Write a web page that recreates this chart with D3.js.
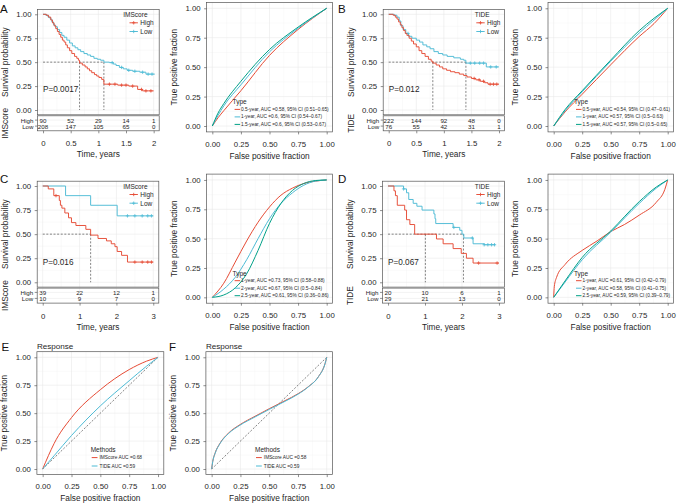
<!DOCTYPE html>
<html><head><meta charset="utf-8">
<script src="https://cdn.jsdelivr.net/npm/d3@7"></script>
<style>body{margin:0;background:#fff}svg{font-family:"Liberation Sans",Arial,Helvetica,sans-serif;display:block}</style>
</head><body><svg id="c" width="677" height="504"></svg>
<script>
// ---------------- DATA ----------------
const RED = "#E64B35", BLUE = "#4DBBD5", GREEN = "#00A087";
const survTicks = [0, 0.25, 0.5, 0.75, 1];
const fracTicks = [0, 0.25, 0.5, 0.75, 1];
const kmTicksAB = [0, 0.5, 1, 1.5, 2];
const kmTickLabelsAB = ["0", "0.5", "1", "1.5", "2"];
const kmTicksCD = [0, 1, 2, 3];
const kmTickLabelsCD = ["0", "1", "2", "3"];
const groups = ["High", "Low"];

// Kaplan-Meier steps [time, survival]
const kmAHigh = [[0,1],[0.06,0.99],[0.1,0.97],[0.14,0.94],[0.17,0.91],[0.2,0.88],[0.23,0.85],[0.26,0.82],[0.29,0.79],[0.32,0.76],[0.35,0.73],[0.38,0.71],[0.41,0.68],[0.44,0.65],[0.48,0.62],[0.52,0.59],[0.57,0.56],[0.61,0.54],[0.64,0.52],[0.66,0.49],[0.71,0.47],[0.76,0.45],[0.8,0.43],[0.84,0.41],[0.88,0.39],[0.93,0.37],[0.97,0.355],[1.01,0.34],[1.06,0.32],[1.1,0.27],[1.35,0.26],[1.55,0.25],[1.71,0.215],[1.8,0.2],[2.0,0.2]];
const kmALow = [[0,1],[0.05,0.99],[0.09,0.97],[0.13,0.95],[0.16,0.92],[0.19,0.89],[0.22,0.87],[0.26,0.84],[0.3,0.81],[0.34,0.78],[0.38,0.76],[0.43,0.73],[0.48,0.7],[0.53,0.67],[0.58,0.65],[0.63,0.63],[0.68,0.61],[0.74,0.59],[0.8,0.575],[0.86,0.56],[0.92,0.54],[0.98,0.53],[1.04,0.52],[1.1,0.5],[1.2,0.495],[1.27,0.48],[1.32,0.465],[1.38,0.445],[1.45,0.43],[1.52,0.415],[1.62,0.405],[1.75,0.395],[1.86,0.375],[2.02,0.375]];
const kmBHigh = [[0,1],[0.08,0.99],[0.12,0.97],[0.15,0.95],[0.18,0.92],[0.21,0.89],[0.24,0.86],[0.27,0.83],[0.3,0.8],[0.33,0.78],[0.37,0.75],[0.41,0.72],[0.45,0.69],[0.5,0.66],[0.55,0.62],[0.6,0.59],[0.66,0.56],[0.72,0.53],[0.77,0.51],[0.8,0.49],[0.86,0.47],[0.92,0.45],[0.98,0.43],[1.05,0.415],[1.12,0.4],[1.2,0.39],[1.28,0.375],[1.36,0.36],[1.42,0.345],[1.5,0.33],[1.58,0.315],[1.66,0.3],[1.74,0.285],[1.8,0.27],[2.0,0.27]];
const kmBLow = [[0,1],[0.1,0.99],[0.15,0.97],[0.19,0.93],[0.22,0.88],[0.26,0.84],[0.31,0.8],[0.36,0.77],[0.42,0.75],[0.5,0.73],[0.56,0.71],[0.62,0.68],[0.69,0.66],[0.75,0.64],[0.82,0.61],[0.9,0.59],[0.98,0.575],[1.06,0.56],[1.18,0.545],[1.3,0.53],[1.36,0.52],[1.4,0.49],[1.77,0.45],[2.0,0.45]];
const kmCHigh = [[0,1],[0.15,0.97],[0.3,0.9],[0.45,0.85],[0.48,0.8],[0.52,0.77],[0.6,0.72],[0.7,0.67],[0.78,0.62],[0.9,0.59],[1.17,0.55],[1.3,0.49],[1.5,0.455],[1.73,0.43],[1.86,0.4],[1.96,0.37],[2.02,0.32],[2.14,0.28],[2.3,0.21],[3.0,0.21]];
const kmCLow = [[0,1],[0.62,0.9],[1.3,0.8],[2.02,0.69],[3.0,0.69]];
const kmDHigh = [[0,1],[0.16,0.95],[0.2,0.9],[0.25,0.8],[0.45,0.75],[0.5,0.65],[0.59,0.6],[0.72,0.5],[1.31,0.45],[1.49,0.4],[1.76,0.35],[1.98,0.3],[2.12,0.25],[2.3,0.2],[3.0,0.2]];
const kmDLow = [[0,1],[0.42,0.97],[0.5,0.93],[0.56,0.86],[0.68,0.82],[0.78,0.79],[0.92,0.75],[1.24,0.71],[1.27,0.66],[1.29,0.61],[1.76,0.57],[1.94,0.54],[2.0,0.5],[2.05,0.46],[2.3,0.4],[2.6,0.39],[2.9,0.39]];

// censoring times
const censAHigh = [1.2,1.3,1.42,1.5,1.62,1.78,1.86,1.95];
const censALow = [1.25,1.42,1.55,1.66,1.8,1.9,1.97];
const censBHigh = [1.55,1.64,1.72,1.84,1.9,1.96];
const censBLow = [0.35,1.48,1.56,1.65,1.72,1.85,1.95];
const censCHigh = [0.36,2.5,2.7,2.85,2.95];
const censCLow = [2.3,2.5,2.7,2.85,2.95];
const censDHigh = [2.45,2.95];
const censDLow = [0.42,1.78,2.28,2.6,2.7,2.8,2.88];

// medians and p-values
const medA = [0.66, 1.1], medB = [0.8, 1.4], medC = [1.3], medD = [1.01, 2.04];
const pValues = ["P=0.0017", "P=0.012", "P=0.016", "P=0.067"];

// numbers at risk
const riskAHigh = [90,52,29,14,1], riskALow = [208,147,105,65,0];
const riskBHigh = [222,144,92,48,0], riskBLow = [76,55,42,31,1];
const riskCHigh = [39,22,12,1], riskCLow = [10,9,7,0];
const riskDHigh = [20,10,6,1], riskDLow = [29,21,13,0];

// ROC curves (FPR, TPR)
const rocAFpr = [0,0.05,0.1,0.25,0.5,0.75,1];
const rocARed = [0,0.07,0.13,0.30,0.60,0.82,1];
const rocABlue = [0,0.09,0.17,0.35,0.63,0.83,1];
const rocAGreen = [0,0.11,0.19,0.38,0.65,0.84,1];
const rocALabels = ["0.5-year, AUC =0.58, 95% CI (0.51\u20130.65)","1-year, AUC =0.6, 95% CI (0.54\u20130.67)","1.5-year, AUC =0.6, 95% CI (0.53\u20130.67)"];

const rocBFpr = [0,0.1,0.25,0.5,0.75,0.88,1];
const rocBRed = [0,0.12,0.27,0.52,0.76,0.87,1];
const rocBBlue = [0,0.13,0.29,0.55,0.79,0.90,1];
const rocBGreen = [0,0.14,0.30,0.56,0.81,0.915,1];
const rocBLabels = ["0.5-year, AUC =0.54, 95% CI (0.47\u20130.61)","1-year, AUC =0.57, 95% CI (0.5\u20130.63)","1.5-year, AUC =0.57, 95% CI (0.5\u20130.65)"];

const rocCFpr = [0,0.1,0.2,0.3,0.4,0.5,0.6,0.7,0.8,0.9,1];
const rocCRed = [0,0.12,0.3,0.48,0.64,0.77,0.87,0.93,0.97,0.99,1];
const rocCBlue = [0,0.07,0.17,0.32,0.5,0.67,0.8,0.89,0.955,0.99,1];
const rocCGreen = [0,0.02,0.08,0.2,0.4,0.63,0.8,0.91,0.97,0.995,1];
const rocCLabels = ["1-year, AUC =0.73, 95% CI (0.58\u20130.88)","2-year, AUC =0.67, 95% CI (0.5\u20130.84)","2.5-year, AUC =0.61, 95% CI (0.36\u20130.86)"];

const rocDRedFpr = [0,0.005,0.025,0.1,0.25,0.38,0.5,0.62,0.75,0.9,0.975,1];
const rocDRed = [0,0.09,0.17,0.28,0.40,0.48,0.56,0.62,0.70,0.81,0.92,1];
const rocDFpr = [0,0.1,0.25,0.5,0.75,0.9,1];
const rocDBlue = [0,0.13,0.32,0.555,0.80,0.93,1];
const rocDGreen = [0,0.14,0.34,0.565,0.815,0.94,1];
const rocDLabels = ["1-year, AUC =0.61, 95% CI (0.42\u20130.79)","2-year, AUC =0.58, 95% CI (0.41\u20130.75)","2.5-year, AUC =0.59, 95% CI (0.39\u20130.79)"];

const rocEFpr = [0,0.05,0.1,0.25,0.5,0.75,0.9,1];
const rocERed = [0,0.12,0.23,0.46,0.71,0.89,0.965,1];
const rocEBlue = [0,0.06,0.12,0.3,0.565,0.79,0.92,1];
const rocELabels = ["IMScore AUC =0.68","TIDE AUC =0.59"];

const rocFFpr = [0,0.009,0.029,0.072,0.145,0.246,0.377,0.501,0.638,0.751,0.841,0.928,0.986,1];
const rocFRed = [0,0.066,0.14,0.23,0.32,0.397,0.472,0.54,0.612,0.674,0.738,0.827,0.946,1];
const rocFBlue = [0,0.064,0.137,0.227,0.316,0.392,0.466,0.534,0.606,0.67,0.736,0.826,0.945,1];
const rocFLabels = ["IMScore AUC =0.58","TIDE AUC =0.59"];

// ---------------- DRAWING ----------------
const svg = d3.select("#c");
const INK = "#1f1f1f";

function txt(g, x, y, s, o = {}) {
  const t = g.append("text").attr("x", x).attr("y", y).text(s)
    .attr("font-size", o.size || 7.8).attr("fill", o.fill || INK)
    .attr("text-anchor", o.anchor || "start");
  if (o.mid) t.attr("dominant-baseline", "central");
  if (o.rotate) t.attr("transform", `rotate(-90,${x},${y})`);
  return t;
}

function gridAndFrame(g, x, y, box, xMaj, yMaj) {
  const mid = a => a.slice(1).map((d, i) => (d + a[i]) / 2);
  const gl = g.append("g");
  const vl = (arr, col, w) => gl.selectAll(null).data(arr).enter().append("line")
    .attr("x1", d => x(d)).attr("x2", d => x(d)).attr("y1", box.t).attr("y2", box.b)
    .attr("stroke", col).attr("stroke-width", w);
  const hl = (arr, col, w) => gl.selectAll(null).data(arr).enter().append("line")
    .attr("y1", d => y(d)).attr("y2", d => y(d)).attr("x1", box.l).attr("x2", box.r)
    .attr("stroke", col).attr("stroke-width", w);
  vl(mid(xMaj), "#f3f3f3", 0.4); hl(mid(yMaj), "#f3f3f3", 0.4);
  vl(xMaj, "#e8e8e8", 0.55); hl(yMaj, "#e8e8e8", 0.55);
}
function frame(g, box) {
  g.append("rect").attr("x", box.l).attr("y", box.t).attr("width", box.r - box.l)
    .attr("height", box.b - box.t).attr("fill", "none").attr("stroke", "#555").attr("stroke-width", 0.7);
}
function styleAxis(a, size) {
  a.select(".domain").remove();
  a.selectAll(".tick line").attr("stroke", "#444").attr("stroke-width", 0.6);
  a.selectAll(".tick text").attr("font-size", size || 7.8).attr("fill", INK)
    .attr("font-family", "'Liberation Sans',Arial,sans-serif");
}
function yAxis(g, y, box, vals) {
  const a = g.append("g").attr("transform", `translate(${box.l},0)`)
    .call(d3.axisLeft(y).tickValues(vals).tickFormat(d3.format(".2f")).tickSize(2.5).tickPadding(3.5));
  styleAxis(a);
}
function xAxis(g, x, yPos, vals, fmt, pad) {
  const a = g.append("g").attr("transform", `translate(0,${yPos})`)
    .call(d3.axisBottom(x).tickValues(vals).tickFormat(fmt).tickSize(2.5).tickPadding(pad));
  styleAxis(a);
}
function survAt(arr, t) { let s = 1; for (const [tt, ss] of arr) if (tt <= t) s = ss; return s; }
function plus(g, cx, cy, col) {
  g.append("path").attr("d", `M${cx - 1.7},${cy}H${cx + 1.7}M${cx},${cy - 1.7}V${cy + 1.7}`)
    .attr("stroke", col).attr("stroke-width", 0.8).attr("fill", "none");
}

function kmPanel(c) {
  const g = svg.append("g");
  const box = {l: c.l, r: c.r, t: c.t, b: c.b};
  const x = d3.scaleLinear().domain([-0.05 * c.tmax, 1.05 * c.tmax]).range([c.l, c.r]);
  const y = d3.scaleLinear().domain([-0.05, 1.05]).range([c.b, c.t]);
  const xMinor = c.ticks.slice(1).map((d, i) => (d + c.ticks[i]) / 2);
  gridAndFrame(g, x, y, box, c.ticks, survTicks);
  // medians
  const dash = g.append("g").attr("stroke", "#333").attr("stroke-width", 0.6).attr("stroke-dasharray", "2,1.6");
  dash.append("line").attr("x1", x(0)).attr("x2", x(d3.max(c.med))).attr("y1", y(0.5)).attr("y2", y(0.5));
  c.med.forEach(m => dash.append("line").attr("x1", x(m)).attr("x2", x(m)).attr("y1", y(0.5)).attr("y2", y(0)));
  const line = d3.line().x(d => x(d[0])).y(d => y(d[1])).curve(d3.curveStepAfter);
  [[c.low, c.cLow, BLUE], [c.high, c.cHigh, RED]].forEach(([data, cens, col]) => {
    g.append("path").datum(data).attr("d", line).attr("fill", "none").attr("stroke", col).attr("stroke-width", 0.95);
    cens.forEach(t => plus(g, x(t), y(survAt(data, t)), col));
  });
  frame(g, box);
  yAxis(g, y, box, survTicks);
  txt(g, x(0), y(0.21), c.p, {size: 8.2, mid: true});
  // legend
  txt(g, c.legX, c.t + 5, c.legTitle, {size: 6.5, mid: true});
  [[RED, groups[0]], [BLUE, groups[1]]].forEach(([col, lab], i) => {
    const yy = c.t + 13.3 + i * 8.7;
    g.append("line").attr("x1", c.keyX).attr("x2", c.keyX + 8.4).attr("y1", yy).attr("y2", yy).attr("stroke", col).attr("stroke-width", 0.95);
    plus(g, c.keyX + 4.2, yy, col);
    txt(g, c.keyX + 10.8, yy, lab, {size: 6.5, mid: true});
  });
  // risk table
  const tb = {l: c.l, r: c.r, t: c.b + 1, b: c.b + 16};
  const rows = [c.b + 5.3, c.b + 11.3];
  rows.forEach(ry => g.append("line").attr("x1", tb.l).attr("x2", tb.r).attr("y1", ry).attr("y2", ry).attr("stroke", "#e6e6e6").attr("stroke-width", 0.5));
  c.ticks.forEach(t => g.append("line").attr("x1", x(t)).attr("x2", x(t)).attr("y1", tb.t).attr("y2", tb.b).attr("stroke", "#ececec").attr("stroke-width", 0.5));
  frame(g, tb);
  [[c.rHigh, groups[0]], [c.rLow, groups[1]]].forEach(([vals, lab], i) => {
    const ry = rows[i];
    g.append("line").attr("x1", tb.l - 2.5).attr("x2", tb.l).attr("y1", ry).attr("y2", ry).attr("stroke", "#444").attr("stroke-width", 0.6);
    txt(g, tb.l - 4, ry, lab, {size: 6.2, anchor: "end", mid: true});
    vals.forEach((v, j) => txt(g, x(c.ticks[j]), ry, v, {size: 6.2, anchor: "middle", mid: true}));
  });
  xAxis(g, x, tb.b, c.ticks, (d, i) => c.tickLabels[i], 7.5);
  txt(g, (c.l + c.r) / 2, tb.b + 26.4, "Time, years", {size: 8.3, anchor: "middle"});
  txt(g, c.l - 32.5, (c.t + c.b) / 2, "Survival probability", {size: 8.3, anchor: "middle", mid: true, rotate: true});
  txt(g, c.l - 32.5, (tb.t + tb.b) / 2, c.legTitle, {size: 8.3, anchor: "middle", mid: true, rotate: true});
  txt(g, c.letterX, c.letterY, c.letter, {size: 11.5, fill: "#111"});
}

function rocPanel(c) {
  const g = svg.append("g");
  const box = {l: c.l, r: c.r, t: c.t, b: c.b};
  const x = d3.scaleLinear().domain([-0.05, 1.05]).range([c.l, c.r]);
  const y = d3.scaleLinear().domain([-0.05, 1.05]).range([c.b, c.t]);
  gridAndFrame(g, x, y, box, fracTicks, fracTicks);
  if (c.diag) g.append("line").attr("x1", x(0)).attr("y1", y(0)).attr("x2", x(1)).attr("y2", y(1))
    .attr("stroke", "#333").attr("stroke-width", 0.6).attr("stroke-dasharray", "2,1.6");
  const line = d3.line().x(d => x(d[0])).y(d => y(d[1])).curve(d3.curveMonotoneX);
  c.curves.forEach(cv => {
    const pts = cv.fpr.map((f, i) => [f, cv.tpr[i]]);
    g.append("path").datum(pts).attr("d", line).attr("fill", "none").attr("stroke", cv.col).attr("stroke-width", 1);
  });
  frame(g, box);
  yAxis(g, y, box, fracTicks);
  xAxis(g, x, c.b, fracTicks, d3.format(".2f"), 6.8);
  txt(g, (c.l + c.r) / 2, c.b + 26.6, "False positive fraction", {size: 8.3, anchor: "middle"});
  txt(g, c.l - 32.6, (c.t + c.b) / 2, "True positive fraction", {size: 8.3, anchor: "middle", mid: true, rotate: true});
  // legend
  const L = c.l + c.legDx;
  txt(g, L, c.b - c.legTitleDy, c.legTitle, {size: 6.5, mid: true});
  c.curves.forEach((cv, i) => {
    const yy = c.b - c.legRowDy[i];
    g.append("line").attr("x1", L + c.keyDx).attr("x2", L + c.keyDx + c.keyW).attr("y1", yy).attr("y2", yy).attr("stroke", cv.col).attr("stroke-width", 1);
    txt(g, L + c.keyDx + c.keyW + c.labGap, yy, cv.label, {size: c.labSize, mid: true});
  });
  if (c.title) txt(g, c.l, c.t - 3, c.title, {size: 8.1});
  if (c.letter) txt(g, c.letterX, c.letterY, c.letter, {size: 11.5, fill: "#111"});
}

// KM panels
kmPanel({letter: "A", letterX: 0, letterY: 13.3, l: 37.5, r: 159.2, t: 9.5, b: 114.8, tmax: 2,
  ticks: kmTicksAB, tickLabels: kmTickLabelsAB, high: kmAHigh, low: kmALow, cHigh: censAHigh, cLow: censALow,
  med: medA, p: pValues[0], legTitle: "IMScore", legX: 123.3, keyX: 129.5, rHigh: riskAHigh, rLow: riskALow});
kmPanel({letter: "B", letterX: 338, letterY: 13.3, l: 383.2, r: 504.5, t: 9.5, b: 114.8, tmax: 2,
  ticks: kmTicksAB, tickLabels: kmTickLabelsAB, high: kmBHigh, low: kmBLow, cHigh: censBHigh, cLow: censBLow,
  med: medB, p: pValues[1], legTitle: "TIDE", legX: 474.7, keyX: 476.3, rHigh: riskBHigh, rLow: riskBLow});
kmPanel({letter: "C", letterX: 0, letterY: 183.3, l: 37.2, r: 158.8, t: 181.2, b: 287.1, tmax: 3,
  ticks: kmTicksCD, tickLabels: kmTickLabelsCD, high: kmCHigh, low: kmCLow, cHigh: censCHigh, cLow: censCLow,
  med: medC, p: pValues[2], legTitle: "IMScore", legX: 123.3, keyX: 129.5, rHigh: riskCHigh, rLow: riskCLow});
kmPanel({letter: "D", letterX: 338, letterY: 183.3, l: 382.5, r: 504.5, t: 181.2, b: 287.1, tmax: 3,
  ticks: kmTicksCD, tickLabels: kmTickLabelsCD, high: kmDHigh, low: kmDLow, cHigh: censDHigh, cLow: censDLow,
  med: medD, p: pValues[3], legTitle: "TIDE", legX: 474.7, keyX: 476.3, rHigh: riskDHigh, rLow: riskDLow});

// time-dependent ROC panels
const rocLeg = {legTitle: "Type", legDx: 26, legTitleDy: 30, legRowDy: [22.5, 15, 7.5], keyDx: 2, keyW: 5.5, labGap: 1, labSize: 4.8};
rocPanel(Object.assign({l: 206.6, r: 332.4, t: 2.4, b: 131.9, curves: [
  {fpr: rocAFpr, tpr: rocARed, col: RED, label: rocALabels[0]},
  {fpr: rocAFpr, tpr: rocABlue, col: BLUE, label: rocALabels[1]},
  {fpr: rocAFpr, tpr: rocAGreen, col: GREEN, label: rocALabels[2]}]}, rocLeg));
rocPanel(Object.assign({l: 548, r: 673.4, t: 2.4, b: 131.9, curves: [
  {fpr: rocBFpr, tpr: rocBRed, col: RED, label: rocBLabels[0]},
  {fpr: rocBFpr, tpr: rocBBlue, col: BLUE, label: rocBLabels[1]},
  {fpr: rocBFpr, tpr: rocBGreen, col: GREEN, label: rocBLabels[2]}]}, rocLeg));
rocPanel(Object.assign({l: 206.6, r: 332.4, t: 174.1, b: 303.2, curves: [
  {fpr: rocCFpr, tpr: rocCRed, col: RED, label: rocCLabels[0]},
  {fpr: rocCFpr, tpr: rocCBlue, col: BLUE, label: rocCLabels[1]},
  {fpr: rocCFpr, tpr: rocCGreen, col: GREEN, label: rocCLabels[2]}]}, rocLeg));
rocPanel(Object.assign({l: 548, r: 673.4, t: 174.1, b: 303.2, curves: [
  {fpr: rocDRedFpr, tpr: rocDRed, col: RED, label: rocDLabels[0]},
  {fpr: rocDFpr, tpr: rocDBlue, col: BLUE, label: rocDLabels[1]},
  {fpr: rocDFpr, tpr: rocDGreen, col: GREEN, label: rocDLabels[2]}]}, rocLeg));

// response ROC panels
const respLeg = {legTitle: "Methods", legTitleDy: 25.6, legRowDy: [17, 8.6], keyDx: 1, keyW: 5.8, labGap: 2, labSize: 4.8, diag: true, title: "Response"};
rocPanel(Object.assign({letter: "E", letterX: 1.5, letterY: 350.5, l: 36.9, r: 163.8, t: 351.7, b: 474.6, legDx: 53.8, curves: [
  {fpr: rocEFpr, tpr: rocERed, col: RED, label: rocELabels[0]},
  {fpr: rocEFpr, tpr: rocEBlue, col: BLUE, label: rocELabels[1]}]}, respLeg));
rocPanel(Object.assign({letter: "F", letterX: 169, letterY: 350.5, l: 205.9, r: 332.5, t: 351.7, b: 474.6, legDx: 49.1, curves: [
  {fpr: rocFFpr, tpr: rocFRed, col: RED, label: rocFLabels[0]},
  {fpr: rocFFpr, tpr: rocFBlue, col: BLUE, label: rocFLabels[1]}]}, respLeg));
</script></body></html>
